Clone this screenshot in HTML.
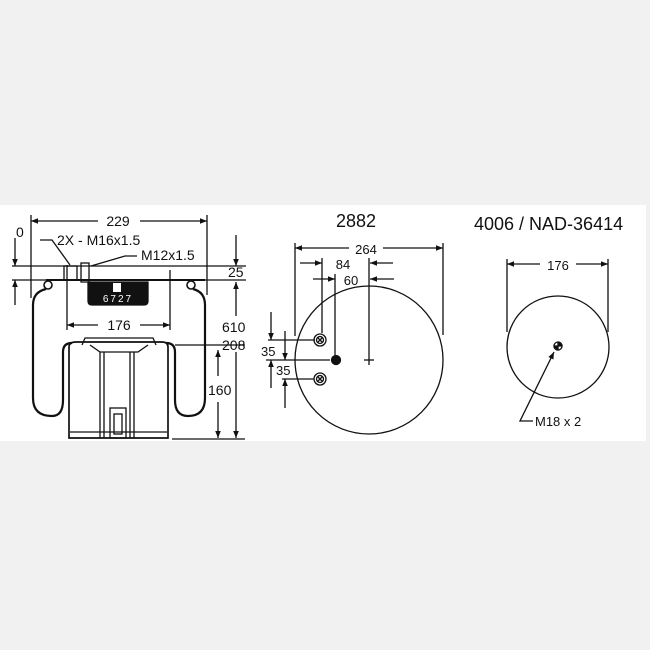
<!DOCTYPE html>
<html><head><style>
html,body{margin:0;padding:0;background:#f1f1f1;}
svg{display:block;}
text{font-family:"Liberation Sans",Arial,sans-serif;fill:#111;}
</style></head><body>
<svg width="650" height="650" viewBox="0 0 650 650" xmlns="http://www.w3.org/2000/svg">
<defs>
<marker id="a" viewBox="0 0 10 10" refX="10" refY="5" markerWidth="10" markerHeight="7" orient="auto-start-reverse" markerUnits="userSpaceOnUse"><path d="M0,1 L10,5 L0,9 z" fill="#111"/></marker>
</defs>
<rect x="0" y="0" width="650" height="650" fill="#f1f1f1"/>
<rect x="0" y="205" width="646" height="236" fill="#fff"/>
<g stroke="#111" fill="none" stroke-width="1.3">
<line x1="31" y1="215" x2="31" y2="298"/>
<line x1="207" y1="215" x2="207" y2="295"/>
<line x1="31" y1="221" x2="98" y2="221" marker-start="url(#a)"/>
<line x1="140" y1="221" x2="207" y2="221" marker-end="url(#a)"/>
<line x1="15" y1="238" x2="15" y2="266" marker-end="url(#a)"/>
<line x1="15" y1="305" x2="15" y2="280" marker-end="url(#a)"/>
<line x1="12" y1="266" x2="246" y2="266"/>
<line x1="12" y1="280" x2="246" y2="280"/>
<line x1="236" y1="235" x2="236" y2="266" marker-end="url(#a)"/>
<line x1="236" y1="282" x2="236" y2="316" marker-start="url(#a)"/>
<line x1="236" y1="352" x2="236" y2="438" marker-end="url(#a)"/>
<line x1="218" y1="350" x2="218" y2="376" marker-start="url(#a)"/>
<line x1="218" y1="402" x2="218" y2="438" marker-end="url(#a)"/>
<line x1="175" y1="345" x2="245" y2="345"/>
<line x1="172" y1="439" x2="245" y2="439"/>
<polyline points="40,240 52,240 70,265"/>
<polyline points="137,256 125,256 91,266"/>
<rect x="64" y="266" width="13" height="14"/>
<rect x="81" y="263" width="8" height="19"/>
<line x1="46" y1="280" x2="205" y2="280" stroke-width="2"/>
<path d="M88,282 H148 V301 Q148,305 144,305 H92 Q88,305 88,301 Z" fill="#111"/>
<circle cx="48" cy="285" r="4" stroke-width="1.6"/>
<circle cx="191" cy="285" r="4" stroke-width="1.6"/>
<path d="M46,289 Q33,292 33,305 V398 Q33,416 52,416 Q63,416 63,400 V352 Q63,343 72,343" stroke-width="2.2"/>
<path d="M193,289 Q205,292 205,305 V398 Q205,416 188,416 Q175,416 175,400 V352 Q175,343 166,343" stroke-width="2.2"/>
<line x1="67" y1="265" x2="67" y2="330"/>
<line x1="170" y1="270" x2="170" y2="330"/>
<line x1="67" y1="325" x2="98" y2="325" marker-start="url(#a)"/>
<line x1="140" y1="325" x2="170" y2="325" marker-end="url(#a)"/>
<path d="M82,345 L85,338 H153 L156,345"/>
<path d="M69,347 Q69,342 76,342 H162 Q168,342 168,347 V438 H69 Z" stroke-width="1.7"/>
<path d="M90,345 L100,352 H138 L148,345"/>
<line x1="100" y1="352" x2="100" y2="438"/><line x1="104" y1="352" x2="104" y2="438"/>
<line x1="130" y1="352" x2="130" y2="438"/><line x1="134" y1="352" x2="134" y2="438"/>
<rect x="110" y="408" width="16" height="30"/>
<rect x="114" y="414" width="8" height="20"/>
<line x1="70" y1="432" x2="167" y2="432"/>
<circle cx="369" cy="360" r="74"/>
<line x1="295" y1="243" x2="295" y2="336"/>
<line x1="443" y1="243" x2="443" y2="335"/>
<line x1="295" y1="248" x2="349" y2="248" marker-start="url(#a)"/>
<line x1="383" y1="248" x2="443" y2="248" marker-end="url(#a)"/>
<line x1="300" y1="263" x2="322" y2="263" marker-end="url(#a)"/>
<line x1="393" y1="263" x2="370" y2="263" marker-end="url(#a)"/>
<line x1="322" y1="258" x2="322" y2="333"/>
<line x1="313" y1="279" x2="335" y2="279" marker-end="url(#a)"/>
<line x1="394" y1="279" x2="370" y2="279" marker-end="url(#a)"/>
<line x1="335" y1="274" x2="335" y2="355"/>
<line x1="369" y1="258" x2="369" y2="365"/>
<line x1="364" y1="360" x2="374" y2="360"/>
<circle cx="320" cy="340" r="6"/><circle cx="320" cy="340" r="3.5"/>
<path d="M317.5,337.5 L322.5,342.5 M322.5,337.5 L317.5,342.5"/>
<circle cx="320" cy="379" r="6"/><circle cx="320" cy="379" r="3.5"/>
<path d="M317.5,376.5 L322.5,381.5 M322.5,376.5 L317.5,381.5"/>
<circle cx="336" cy="360" r="4.5" fill="#111"/>
<line x1="268" y1="340" x2="315" y2="340"/>
<line x1="266" y1="360" x2="330" y2="360"/>
<line x1="282" y1="379" x2="314" y2="379"/>
<line x1="271" y1="312" x2="271" y2="340" marker-end="url(#a)"/>
<line x1="271" y1="388" x2="271" y2="360" marker-end="url(#a)"/>
<line x1="285" y1="331" x2="285" y2="360" marker-end="url(#a)"/>
<line x1="285" y1="408" x2="285" y2="379" marker-end="url(#a)"/>
<circle cx="558" cy="347" r="51"/>
<line x1="507" y1="259" x2="507" y2="332"/>
<line x1="608" y1="259" x2="608" y2="332"/>
<line x1="507" y1="264" x2="540" y2="264" marker-start="url(#a)"/>
<line x1="576" y1="264" x2="608" y2="264" marker-end="url(#a)"/>
<circle cx="558" cy="346" r="4"/>
<path d="M558,342 A4,4 0 0 1 562,346 H558 Z M558,346 H554 A4,4 0 0 0 558,350 Z" fill="#111"/>
<polyline points="533,421 520,421 554,352" marker-end="url(#a)"/>
</g>
<rect x="113" y="283" width="8" height="9" fill="#fff"/>
<text x="118" y="302" font-size="10" text-anchor="middle" style="fill:#fff;letter-spacing:2px">6727</text>
<g font-size="14">
<text x="118" y="226" text-anchor="middle">229</text>
<text x="16" y="237">0</text>
<text x="57" y="245">2X - M16x1.5</text>
<text x="141" y="260">M12x1.5</text>
<text x="228" y="277">25</text>
<text x="222" y="332">610</text>
<text x="222" y="350">208</text>
<text x="208" y="395">160</text>
<text x="119" y="330" text-anchor="middle">176</text>
<text x="356" y="227" text-anchor="middle" font-size="18">2882</text>
<text x="474" y="230" font-size="18">4006 / NAD-36414</text>
<text x="366" y="254" text-anchor="middle" font-size="13">264</text>
<text x="343" y="269" text-anchor="middle" font-size="13">84</text>
<text x="351" y="285" text-anchor="middle" font-size="13">60</text>
<text x="261" y="356" font-size="13">35</text>
<text x="276" y="375" font-size="13">35</text>
<text x="558" y="270" text-anchor="middle" font-size="13">176</text>
<text x="535" y="426" font-size="13">M18 x 2</text>
</g>
</svg>
</body></html>
